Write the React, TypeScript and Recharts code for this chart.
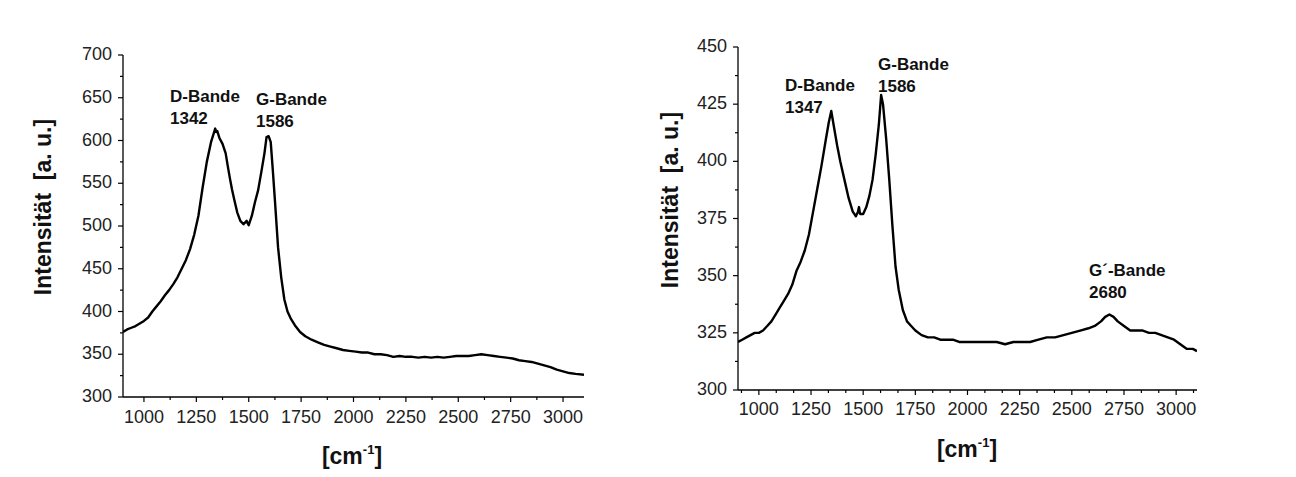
import { LineChart, Line, XAxis, YAxis } from "recharts";

// Raman spectra (wavenumber in cm^-1, intensity in a.u.)
const leftWavenumbers = [
  900, 920, 940, 960, 980, 1000, 1020, 1040, 1060, 1080, 1100, 1120, 1140, 1160, 1180, 1200,
  1220, 1240, 1260, 1280, 1300, 1320, 1330, 1340, 1345, 1350, 1360, 1375, 1390, 1400, 1410,
  1420, 1430, 1445, 1460, 1475, 1490, 1500, 1515, 1530, 1545, 1560, 1575, 1585, 1595, 1605,
  1615, 1625, 1640, 1655, 1670, 1685, 1700, 1720, 1745, 1770, 1800, 1830, 1860, 1890, 1920,
  1950, 1980, 2010, 2040, 2070, 2100, 2130, 2160, 2190, 2220, 2250, 2280, 2310, 2340, 2370,
  2400, 2430, 2460, 2490, 2520, 2550, 2580, 2610, 2640, 2670, 2700, 2730, 2760, 2790, 2820,
  2850, 2880, 2910, 2940, 2970, 3000, 3030, 3060, 3100,
];
const leftIntensity = [
  376, 379, 381, 383, 386, 389, 393, 400, 406, 412, 419, 425, 432, 440, 450, 460,
  473, 490, 512, 545, 575, 598, 606, 614, 610, 611, 603, 596, 585, 570, 556,
  543, 532, 516, 506, 502, 506, 501, 512, 528, 542, 563, 585, 604, 605, 598,
  565, 530, 475, 440, 414, 400, 392, 384, 376, 371, 367, 364, 361, 359, 357,
  355, 354, 353, 352, 352, 350, 350, 349, 347, 348, 347, 347, 346, 347, 346,
  347, 346, 347, 348, 348, 348, 349, 350, 349, 348, 347, 346, 345, 343, 342,
  341, 339, 337, 335, 332, 330, 328, 327, 326,
];

const rightWavenumbers = [
  900, 920, 940, 960, 980, 1000, 1020, 1040, 1060, 1080, 1100, 1120, 1140, 1160, 1180, 1200,
  1220, 1240, 1260, 1280, 1300, 1320, 1335, 1347, 1360, 1375, 1390, 1410, 1430, 1450, 1465,
  1475, 1480, 1485, 1500, 1515, 1530, 1545, 1560, 1575, 1586, 1595, 1610, 1625, 1640, 1655,
  1670, 1690, 1710, 1730, 1750, 1780, 1810, 1840, 1870, 1900, 1930, 1960, 1990, 2020, 2060,
  2100, 2140, 2180, 2220, 2260, 2300, 2340, 2380, 2420, 2460, 2500, 2540, 2580, 2610, 2640,
  2660, 2680, 2700, 2720, 2750, 2780, 2810, 2840, 2870, 2900, 2930, 2960, 2990, 3020, 3050,
  3080, 3100,
];
const rightIntensity = [
  321, 322, 323, 324, 325, 325, 326, 328, 330, 333, 336, 339, 342, 346, 352, 356,
  361, 368, 378, 388, 398, 409, 417, 422, 415, 407, 400, 392, 384, 378, 376,
  378, 380, 377, 377, 380, 385, 392, 403, 416, 429, 425, 410, 392, 372, 354,
  344, 335, 330, 328, 326, 324, 323, 323, 322, 322, 322, 321, 321, 321, 321,
  321, 321, 320, 321, 321, 321, 322, 323, 323, 324, 325, 326, 327, 328, 330,
  332, 333, 332, 330, 328, 326, 326, 326, 325, 325, 324, 323, 322, 320, 318,
  318, 317,
];

const xMajorTicks = [1000, 1250, 1500, 1750, 2000, 2250, 2500, 2750, 3000];
const leftYMajorTicks = [300, 350, 400, 450, 500, 550, 600, 650, 700];
const rightYMajorTicks = [300, 325, 350, 375, 400, 425, 450];

const FONT = "'Liberation Sans', Arial, sans-serif";

// minor ticks sit between the majors; `parts` = number of intervals per major step
function withMinors(majors: number[], parts: number, lo: number, hi: number) {
  const step = majors[1] - majors[0];
  const out: number[] = [];
  for (let v = majors[0] - step; v <= majors[majors.length - 1] + step; v += step) {
    for (let k = 0; k < parts; k++) {
      const t = Math.round((v + (k * step) / parts) * 100) / 100;
      if (t >= lo && t <= hi) out.push(t);
    }
  }
  return out;
}

const isMajor = (v: number, majors: number[]) => majors.some((m) => Math.abs(m - v) < 0.01);

function makeXTick(majors: number[], labelDy: number) {
  return (props: any) => {
    const { x, y, payload } = props;
    const major = isMajor(payload.value, majors);
    return (
      <g>
        <line x1={x} x2={x} y1={y} y2={y + (major ? 5 : 3)} stroke="#000" strokeWidth={1.2} />
        {major && (
          <text x={x} y={y + labelDy} textAnchor="middle" fontSize={18} fill="#222" fontFamily={FONT}>
            {payload.value}
          </text>
        )}
      </g>
    );
  };
}

function makeYTick(majors: number[], gap: number) {
  return (props: any) => {
    const { x, y, payload } = props;
    const major = isMajor(payload.value, majors);
    return (
      <g>
        <line x1={x - (major ? 5 : 3)} x2={x} y1={y} y2={y} stroke="#000" strokeWidth={1.2} />
        {major && (
          <text x={x - gap} y={y + 5} textAnchor="end" fontSize={18} fill="#222" fontFamily={FONT}>
            {payload.value}
          </text>
        )}
      </g>
    );
  };
}

const axisLine = { stroke: "#000", strokeWidth: 1.3 };

interface PanelProps {
  left: number;
  margin: { top: number; right: number; bottom: number; left: number };
  xs: number[];
  ys: number[];
  yDomain: [number, number];
  yMajors: number[];
  xParts: number;
  xLabelDy: number;
  yGap: number;
}

function SpectrumPanel({ left, margin, xs, ys, yDomain, yMajors, xParts, xLabelDy, yGap }: PanelProps) {
  const data = xs.map((x, i) => ({ x, y: ys[i] }));
  return (
    <div style={{ position: "absolute", left, top: 0 }}>
      <LineChart width={648} height={477} data={data} margin={margin}>
        <XAxis
          dataKey="x"
          type="number"
          domain={[900, 3100]}
          ticks={withMinors(xMajorTicks, xParts, 900, 3100)}
          interval={0}
          allowDataOverflow
          height={30}
          axisLine={axisLine}
          tickLine={false}
          tickSize={0}
          tickMargin={0}
          tick={makeXTick(xMajorTicks, xLabelDy)}
        />
        <YAxis
          type="number"
          domain={yDomain}
          ticks={withMinors(yMajors, 2, yDomain[0], yDomain[1])}
          interval={0}
          allowDataOverflow
          width={60}
          axisLine={axisLine}
          tickLine={false}
          tickSize={0}
          tickMargin={0}
          tick={makeYTick(yMajors, yGap)}
        />
        <Line
          type="linear"
          dataKey="y"
          stroke="#000"
          strokeWidth={2.4}
          strokeLinejoin="round"
          dot={false}
          isAnimationActive={false}
        />
      </LineChart>
    </div>
  );
}

const bold = { fontFamily: FONT, fontWeight: 700, fill: "#111" } as const;

export default function App() {
  return (
    <div
      style={{
        position: "absolute",
        left: 0,
        top: 0,
        width: 1296,
        height: 477,
        background: "#fff",
        overflow: "hidden",
      }}
    >
      <SpectrumPanel
        left={0}
        margin={{ top: 55, right: 64, bottom: 50, left: 63 }}
        xs={leftWavenumbers}
        ys={leftIntensity}
        yDomain={[300, 700]}
        yMajors={leftYMajorTicks}
        xParts={2}
        xLabelDy={26}
        yGap={11}
      />
      <SpectrumPanel
        left={648}
        margin={{ top: 47, right: 99, bottom: 57, left: 30 }}
        xs={rightWavenumbers}
        ys={rightIntensity}
        yDomain={[300, 450]}
        yMajors={rightYMajorTicks}
        xParts={3}
        xLabelDy={25}
        yGap={11}
      />
      <svg width={1296} height={477} style={{ position: "absolute", left: 0, top: 0, pointerEvents: "none" }}>
        {/* left panel labels */}
        <text
          transform="translate(51 207) rotate(-90)"
          textAnchor="middle"
          fontSize={23}
          style={{ ...bold, whiteSpace: "pre" }}
        >
          {"Intensität  [a. u.]"}
        </text>
        <text x={352} y={464} textAnchor="middle" fontSize={23} style={bold}>
          [cm<tspan dy={-10} fontSize={13}>-1</tspan>
          <tspan dy={10}>]</tspan>
        </text>
        <text x={170} y={102} fontSize={17} style={bold}>D-Bande</text>
        <text x={170} y={124} fontSize={17} style={bold}>1342</text>
        <text x={256} y={105} fontSize={17} style={bold}>G-Bande</text>
        <text x={256} y={127} fontSize={17} style={bold}>1586</text>

        {/* right panel labels */}
        <text
          transform="translate(678 200) rotate(-90)"
          textAnchor="middle"
          fontSize={23}
          style={{ ...bold, whiteSpace: "pre" }}
        >
          {"Intensität  [a. u.]"}
        </text>
        <text x={967} y={457} textAnchor="middle" fontSize={23} style={bold}>
          [cm<tspan dy={-10} fontSize={13}>-1</tspan>
          <tspan dy={10}>]</tspan>
        </text>
        <text x={785} y={91} fontSize={17} style={bold}>D-Bande</text>
        <text x={785} y={113} fontSize={17} style={bold}>1347</text>
        <text x={878} y={70} fontSize={17} style={bold}>G-Bande</text>
        <text x={878} y={92} fontSize={17} style={bold}>1586</text>
        <text x={1089} y={276} fontSize={17} style={bold}>G´-Bande</text>
        <text x={1089} y={298} fontSize={17} style={bold}>2680</text>
      </svg>
    </div>
  );
}
